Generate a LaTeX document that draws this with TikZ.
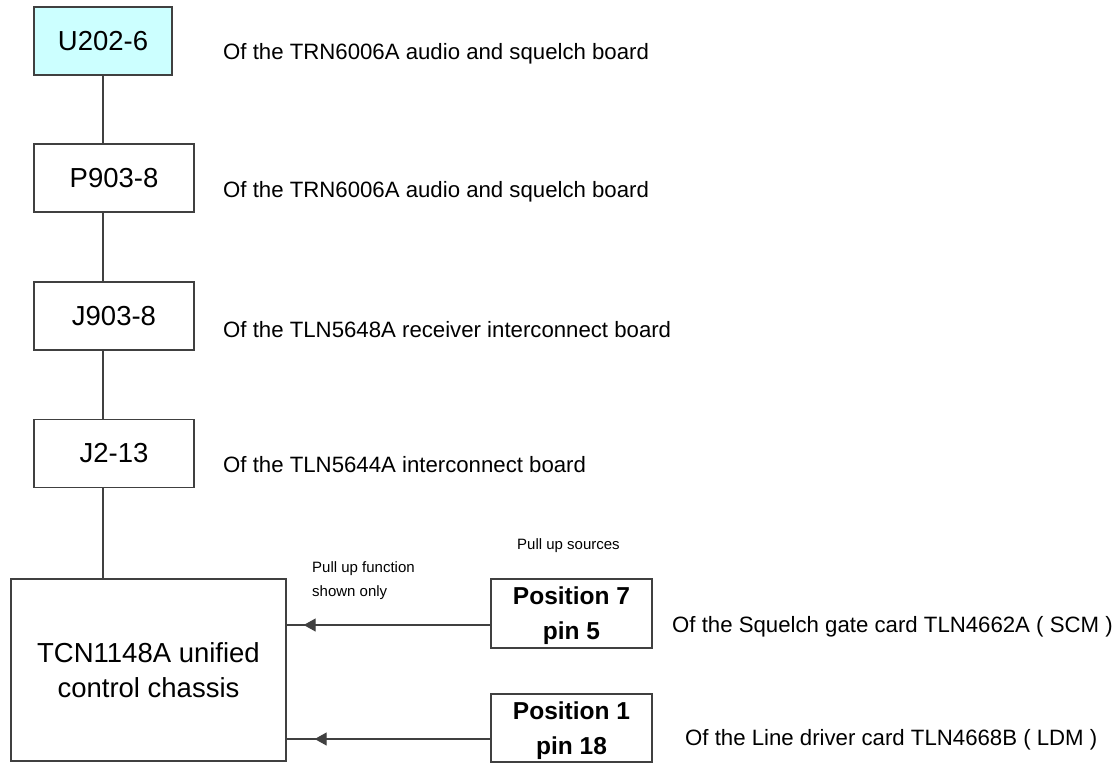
\documentclass[tikz,border=0pt]{standalone}
\usepackage{fontspec}
\setmainfont{Liberation Sans}
\usetikzlibrary{arrows.meta}
\definecolor{linegray}{HTML}{404040}
\definecolor{boxcyan}{HTML}{CCFFFF}
\tikzset{
  box/.style={draw=linegray, line width=1.4pt, fill=white, inner sep=0pt, align=center},
  idbox/.style={box, minimum width=160pt, minimum height=68pt, font=\fontsize{27.5}{30}\selectfont},
  posbox/.style={box, minimum width=161pt, minimum height=69pt, text depth=-2pt, font=\bfseries\fontsize{24.5}{35}\selectfont},
  desc/.style={anchor=west, inner sep=0pt, font=\fontsize{22.2}{26}\selectfont},
  small/.style={anchor=west, inner sep=0pt, align=left, font=\fontsize{15}{24}\selectfont},
  conn/.style={draw=linegray, line width=1.4pt},
  tip/.style={conn, -{Triangle[length=12pt,width=13pt]}}
}
\begin{document}
\begin{tikzpicture}[x=1pt,y=-1pt]
\useasboundingbox (0,0) rectangle (1115,763);
\node[idbox, fill=boxcyan, minimum width=138pt] (u) at (103,41) {U202-6};
\node[idbox] (p) at (114,178) {P903-8};
\node[idbox] (j9) at (114,316) {J903-8};
\node[idbox] (j2) at (114,453.5) {J2-13};
\node[box, minimum width=275pt, minimum height=182pt, font=\fontsize{27.5}{35}\selectfont] (big) at (148.5,670) {TCN1148A unified\\control chassis};
\node[posbox] (p7) at (571.5,613.5) {Position 7\\pin 5};
\node[posbox, minimum height=68pt] (p1) at (571.5,728) {Position 1\\pin 18};

\node[desc] (l1) at (223,53.5) {Of the TRN6006A audio and squelch board};
\node[desc] (l2) at (223,191.5) {Of the TRN6006A audio and squelch board};
\node[desc] (l3) at (223,329.5) {Of the TLN5648A receiver interconnect board};
\node[desc] (l4) at (223,464.5) {Of the TLN5644A interconnect board};
\node[desc] (l5) at (672,626.5) {Of the Squelch gate card TLN4662A ( SCM )};
\node[desc] (l6) at (685,739.5) {Of the Line driver card TLN4668B ( LDM )};
\node[small] (pf) at (312,581) {Pull up function\\shown only};
\node[small] (ps) at (517,546) {Pull up sources};

\draw[conn] (u.south) -- (u.south |- p.north);
\draw[conn] (u.south |- p.south) -- (u.south |- j9.north);
\draw[conn] (u.south |- j9.south) -- (u.south |- j2.north);
\draw[conn] (u.south |- j2.south) -- (u.south |- big.north);

\coordinate (a7) at ([yshift=-11.5pt]p7.west);
\coordinate (a1) at ([yshift=-11pt]p1.west);
\draw[conn] (a7) -- (a7 -| big.east);
\draw[tip, shorten >=17pt] (a7) -- (a7 -| big.east);
\draw[conn] (a1) -- (a1 -| big.east);
\draw[tip, shorten >=28pt] (a1) -- (a1 -| big.east);
\end{tikzpicture}
\end{document}
